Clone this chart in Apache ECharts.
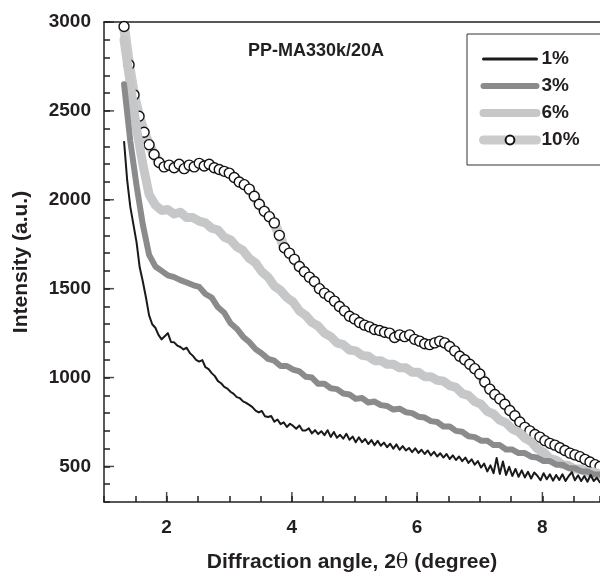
<!DOCTYPE html>
<html>
<head>
<meta charset="utf-8">
<script src="https://cdn.jsdelivr.net/npm/echarts@6/dist/echarts.min.js"></script>
<style>
html,body{margin:0;padding:0;background:#fff;}
#chart{width:600px;height:576px;}
</style>
</head>
<body>
<div id="chart"></div>
<script>
// ---- data ----
const seriesNames = ['1%', '3%', '6%', '10%'];
const chartTitle = 'PP-MA330k/20A';
const xTickLabels = [2, 4, 6, 8];
const yTickLabels = [500, 1000, 1500, 2000, 2500, 3000];

// 1% : angles start 1.32, step 0.05
const start1 = 1.32, step1 = 0.05;
const int1 = [2330,2110,1960,1860,1760,1620,1540,1450,1350,1300,1280,1240,1215,1232,1250,1200,1198,1180,1172,1158,
  1168,1138,1122,1100,1090,1098,1058,1048,1025,1008,980,968,948,938,920,908,890,884,866,858,
  846,834,814,804,812,782,778,784,752,764,738,748,722,740,728,712,730,702,702,714,
  686,704,682,698,676,704,666,694,662,678,656,684,650,668,636,664,636,654,626,648,
  620,644,616,634,608,628,600,624,594,614,590,604,580,602,576,594,570,590,562,582,
  556,574,550,570,542,562,536,556,530,550,520,540,510,530,494,516,472,506,462,548,
  458,528,452,498,446,486,442,478,438,470,432,466,448,422,462,428,456,420,452,424,
  456,418,446,468,422,450,418,446,414,452,418,436,410,434];

// 3% : angles start 1.32, step 0.1
const start3 = 1.32, step3 = 0.1;
const int3 = [2650,2330,2080,1860,1690,1625,1600,1575,1565,1548,1535,1520,1510,1470,1450,1395,1365,1305,1275,1230,
  1200,1160,1135,1105,1095,1065,1065,1045,1035,1005,1000,965,965,940,935,910,905,880,885,860,
  865,845,840,820,825,805,800,780,775,755,750,725,725,700,695,670,665,645,645,620,
  620,595,595,575,575,555,550,530,530,510,510,490,490,472,472,455,455,438,440,428];

// 6% : angles start 1.32, step 0.1
const start6 = 1.32, step6 = 0.1;
const int6 = [2900,2650,2400,2200,2030,1970,1940,1945,1920,1930,1900,1900,1880,1870,1840,1830,1790,1775,1735,1715,
  1670,1645,1595,1565,1515,1490,1450,1425,1375,1350,1310,1290,1250,1230,1195,1185,1155,1150,1125,1120,
  1095,1095,1075,1075,1055,1055,1030,1030,1005,1005,985,980,955,945,910,900,865,850,810,795,
  760,745,710,695,660,640,600,580,545,535,510,505,485,485,468,470,455,452];

// 10% : angles start 1.32, step 0.08
const start10 = 1.32, step10 = 0.08;
const int10 = [2975,2760,2590,2470,2380,2310,2255,2210,2185,2195,2180,2200,2175,2195,2185,2205,2190,2200,2180,2170,
  2160,2150,2125,2100,2085,2060,2020,1975,1935,1905,1870,1800,1730,1700,1665,1625,1595,1565,1540,1500,
  1475,1455,1430,1400,1375,1345,1330,1310,1295,1285,1270,1265,1255,1250,1225,1240,1230,1240,1215,1205,
  1190,1185,1195,1205,1195,1175,1150,1120,1100,1075,1050,1020,975,935,905,880,850,815,785,750,
  720,700,680,665,645,630,620,605,590,575,565,555,540,525,510,500];

function pairs(start, step, vals) {
  return vals.map((v, i) => [+(start + i * step).toFixed(3), v]);
}

const FONT = '"Liberation Sans", Arial, sans-serif';
const TXT = '#231f20';
const AX = '#222';

const chart = echarts.init(document.getElementById('chart'), null, {renderer: 'canvas'});

const xMin = 1, xMax = 8.92, yMin = 300, yMax = 3000;

// longer major tick marks placed at the labelled tick values through the axes' scales
function majorTickSeries(points, size, offset) {
  return {
    type: 'scatter', xAxisIndex: 0, yAxisIndex: 0, z: 10, silent: true, clip: false,
    symbol: 'rect', symbolSize: size, symbolOffset: offset,
    itemStyle: {color: AX}, emphasis: {disabled: true}, tooltip: {show: false},
    data: points
  };
}

const option = {
  animation: false,
  backgroundColor: '#fff',
  title: {
    text: chartTitle,
    left: 311, top: 37, textAlign: 'center',
    textStyle: {fontFamily: FONT, fontSize: 18, fontWeight: 'bold', color: TXT}
  },
  legend: {
    data: [
      {name: '1%', itemStyle: {opacity: 0}, lineStyle: {width: 3, cap: 'round'}},
      {name: '3%', itemStyle: {opacity: 0}, lineStyle: {width: 6, cap: 'round'}},
      {name: '6%', itemStyle: {opacity: 0}, lineStyle: {width: 8, cap: 'round'}},
      {name: '10%', lineStyle: {width: 9, cap: 'round'}}
    ],
    orient: 'vertical',
    left: 467, top: 34,
    padding: [15, 21, 15, 12],
    itemWidth: 53, itemHeight: 11, itemGap: 7,
    borderColor: '#333', borderWidth: 1,
    textStyle: {fontFamily: FONT, fontSize: 19, fontWeight: 'bold', color: TXT, lineHeight: 20}
  },
  grid: {left: 104, top: 22, right: 0, bottom: 74, containLabel: false, outerBoundsMode: 'none'},
  xAxis: [
    {
      type: 'value', min: xMin, max: xMax, interval: 0.5, position: 'bottom',
      name: 'Diffraction angle, 2{t|θ} (degree)', nameLocation: 'middle', nameGap: 50,
      nameTextStyle: {fontFamily: FONT, fontSize: 21, fontWeight: 'bold', color: TXT,
        rich: {t: {fontFamily: '"DejaVu Serif", serif', fontSize: 21, fontWeight: 'normal', color: TXT}}},
      axisLine: {show: true, lineStyle: {color: AX, width: 1.5}},
      axisTick: {show: true, inside: true, length: 6, lineStyle: {color: AX, width: 1.5}},
      axisLabel: {
        margin: 16, fontFamily: FONT, fontSize: 19, fontWeight: 'bold', color: TXT,
        formatter: v => (xTickLabels.indexOf(Math.round(v * 1000) / 1000) >= 0 ? String(v) : '')
      },
      splitLine: {show: false}
    },
    {
      type: 'value', min: xMin, max: xMax, position: 'top',
      axisLine: {show: true, lineStyle: {color: AX, width: 1.5}},
      axisTick: {show: false}, axisLabel: {show: false}, splitLine: {show: false}
    }
  ],
  yAxis: [
    {
      type: 'value', min: yMin, max: yMax, interval: 100, position: 'left',
      name: 'Intensity (a.u.)', nameLocation: 'middle', nameGap: 72,
      nameTextStyle: {fontFamily: FONT, fontSize: 21, fontWeight: 'bold', color: TXT},
      axisLine: {show: true, lineStyle: {color: AX, width: 1.5}},
      axisTick: {show: true, inside: true, length: 6, lineStyle: {color: AX, width: 1.5}},
      axisLabel: {
        margin: 13, fontFamily: FONT, fontSize: 19, fontWeight: 'bold', color: TXT,
        formatter: v => (yTickLabels.indexOf(Math.round(v)) >= 0 ? String(v) : '')
      },
      splitLine: {show: false}
    }
  ],
  series: [
    {
      name: '10%', type: 'line', xAxisIndex: 0, yAxisIndex: 0, z: 2,
      data: pairs(start10, step10, int10),
      lineStyle: {color: '#cbcbcb', width: 10, cap: 'round', join: 'round'},
      symbol: 'circle', symbolSize: 10, showSymbol: true,
      itemStyle: {color: '#ffffff', borderColor: '#111', borderWidth: 1.4},
      emphasis: {disabled: true}
    },
    {
      name: '6%', type: 'line', xAxisIndex: 0, yAxisIndex: 0, z: 3,
      data: pairs(start6, step6, int6),
      lineStyle: {color: '#c6c7c9', width: 9, cap: 'round', join: 'round'},
      itemStyle: {color: '#c6c7c9'},
      symbol: 'none', emphasis: {disabled: true}
    },
    {
      name: '3%', type: 'line', xAxisIndex: 0, yAxisIndex: 0, z: 4,
      data: pairs(start3, step3, int3),
      lineStyle: {color: '#8a8b8d', width: 6, cap: 'round', join: 'round'},
      itemStyle: {color: '#8a8b8d'},
      symbol: 'none', emphasis: {disabled: true}
    },
    {
      name: '1%', type: 'line', xAxisIndex: 0, yAxisIndex: 0, z: 5,
      data: pairs(start1, step1, int1),
      lineStyle: {color: '#1a1a1a', width: 2, join: 'round'},
      itemStyle: {color: '#1a1a1a'},
      symbol: 'none', emphasis: {disabled: true}
    },
    majorTickSeries(xTickLabels.map(v => [v, yMin]), [1.5, 10], [0, -5]),
    majorTickSeries(yTickLabels.map(v => [xMin, v]), [10, 1.5], [5, 0])
  ]
};
chart.setOption(option);
</script>
</body>
</html>
